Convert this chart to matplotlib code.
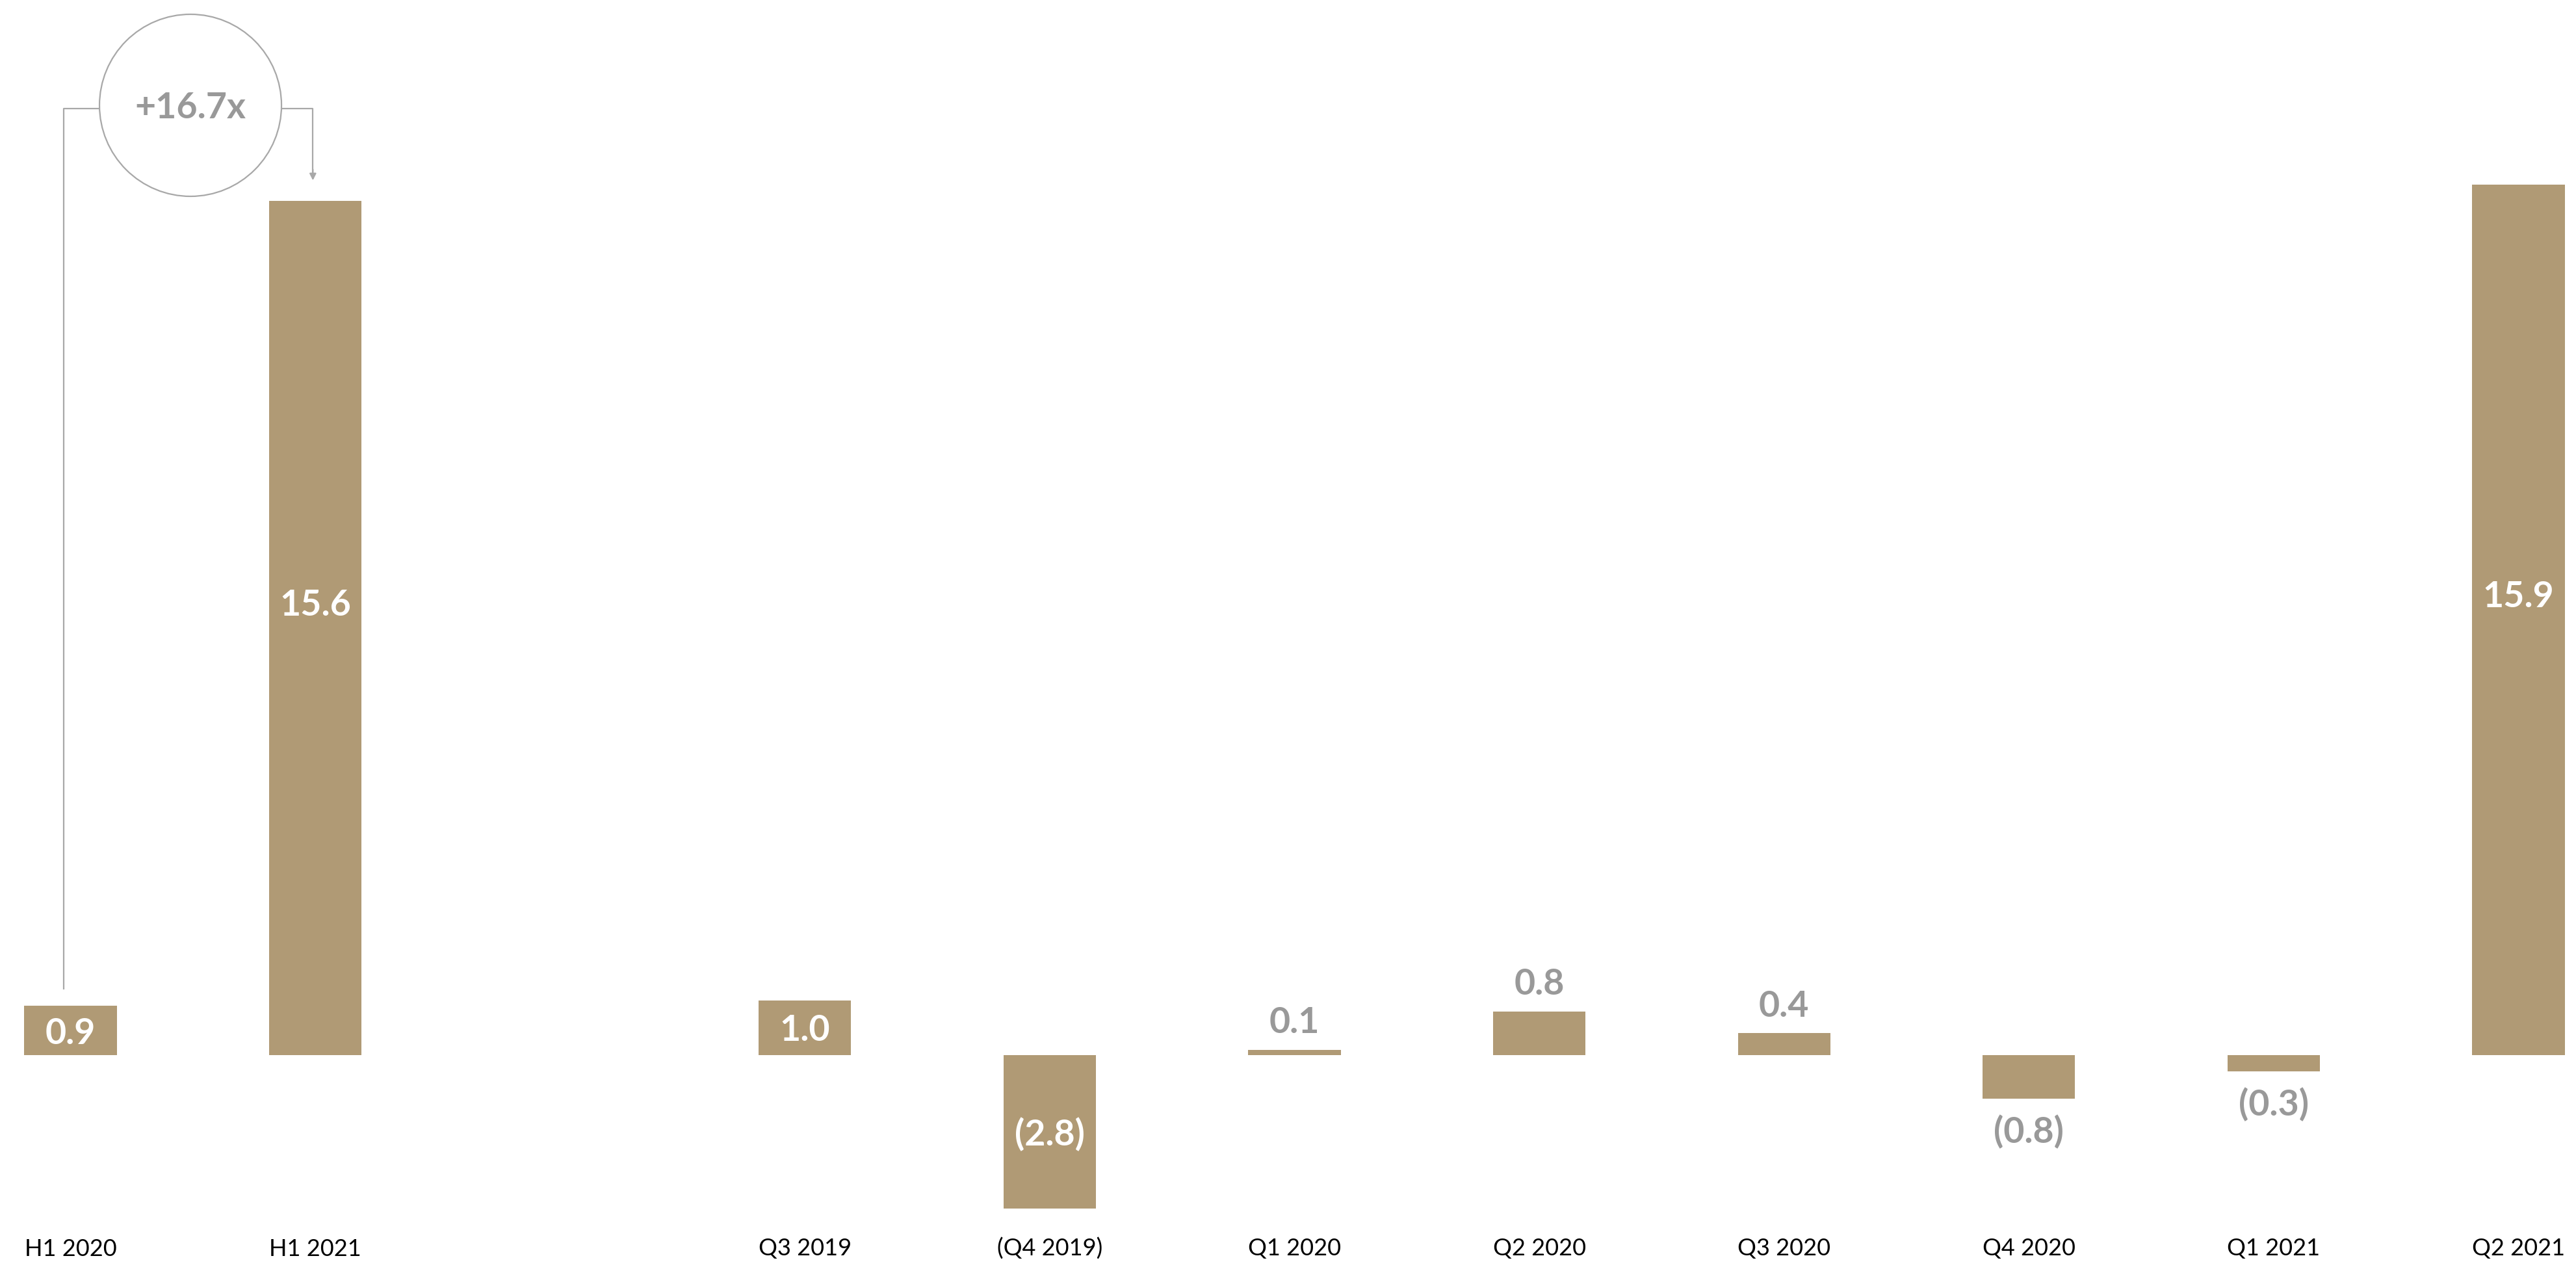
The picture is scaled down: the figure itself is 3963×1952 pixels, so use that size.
import matplotlib
matplotlib.use("Agg")
import matplotlib.pyplot as plt
from matplotlib.patches import Ellipse

# ---- data ----
categories = ["H1 2020", "H1 2021", "Q3 2019", "(Q4 2019)", "Q1 2020",
              "Q2 2020", "Q3 2020", "Q4 2020", "Q1 2021", "Q2 2021"]
values = [0.9, 15.6, 1.0, -2.8, 0.1, 0.8, 0.4, -0.8, -0.3, 15.9]
value_labels = ["0.9", "15.6", "1.0", "(2.8)", "0.1", "0.8", "0.4", "(0.8)", "(0.3)", "15.9"]
growth_label = "+16.7x"

positions = [0, 1, 3, 4, 5, 6, 7, 8, 9, 10]

BAR = "#B09A75"
GREY = "#999999"
LINE = "#A8A8A8"
FONT = "Lato"

W, H = 3963, 1952
fig = plt.figure(figsize=(W / 100, H / 100), dpi=100)
ax = fig.add_axes([0, 0, 1, 1])
ax.axis("off")

px_per_x = 376.6
px_per_y = 84.2
x0_px = 108.5
zero_px = 1623
ax.set_xlim(-x0_px / px_per_x, (W - x0_px) / px_per_x)
ax.set_ylim(-(H - zero_px) / px_per_y, zero_px / px_per_y)

ax.bar(positions, values, width=0.378, color=BAR, linewidth=0)

for x, v, lab in zip(positions, values, value_labels):
    if abs(v) >= 0.85:
        yc = v * 0.53 if abs(v) > 5 else v / 2
        ax.text(x, yc, lab, ha="center", va="center_baseline", color="white",
                fontsize=40, fontweight="bold", family=FONT)
    else:
        off = 46 if v >= 0 else -46
        ax.annotate(lab, (x, v), xytext=(0, off), textcoords="offset pixels",
                    ha="center", va="center_baseline", color=GREY,
                    fontsize=40, fontweight="bold", family=FONT)

label_y = -(1921 - zero_px) / px_per_y
for x, c in zip(positions, categories):
    ax.text(x, label_y, c, ha="center", va="center", color="black",
            fontsize=26, family=FONT)

# ---- growth annotation ----
cx = (positions[0] + positions[1]) / 2 - 0.01
cy = (zero_px - 162) / px_per_y
r_px = 140
conn_y = (zero_px - 167) / px_per_y
ax.add_patch(Ellipse((cx, cy), 2 * r_px / px_per_x, 2 * r_px / px_per_y,
                     facecolor="white", edgecolor=LINE, linewidth=1.6, zorder=3))
ax.text(cx, cy, growth_label, ha="center", va="center_baseline", color=GREY,
        fontsize=40, fontweight="bold", family=FONT, zorder=4)

lx = positions[0] - 0.028
ax.plot([lx, lx, cx - r_px / px_per_x], [values[0] + 0.3, conn_y, conn_y],
        color=LINE, linewidth=1.6, zorder=2, solid_capstyle="butt")
rx = positions[1] - 0.01
tip_y = values[1] + 0.38
ax.plot([cx + r_px / px_per_x, rx, rx], [conn_y, conn_y, tip_y + 0.1],
        color=LINE, linewidth=1.6, zorder=2, solid_capstyle="butt")
ax.annotate("", xy=(rx, tip_y), xytext=(rx, tip_y + 0.2),
            arrowprops=dict(arrowstyle="-|>,head_length=0.6,head_width=0.3",
                            color=LINE, linewidth=1.6, shrinkA=0, shrinkB=0))

fig.savefig("out.png", dpi=100, facecolor="white")
